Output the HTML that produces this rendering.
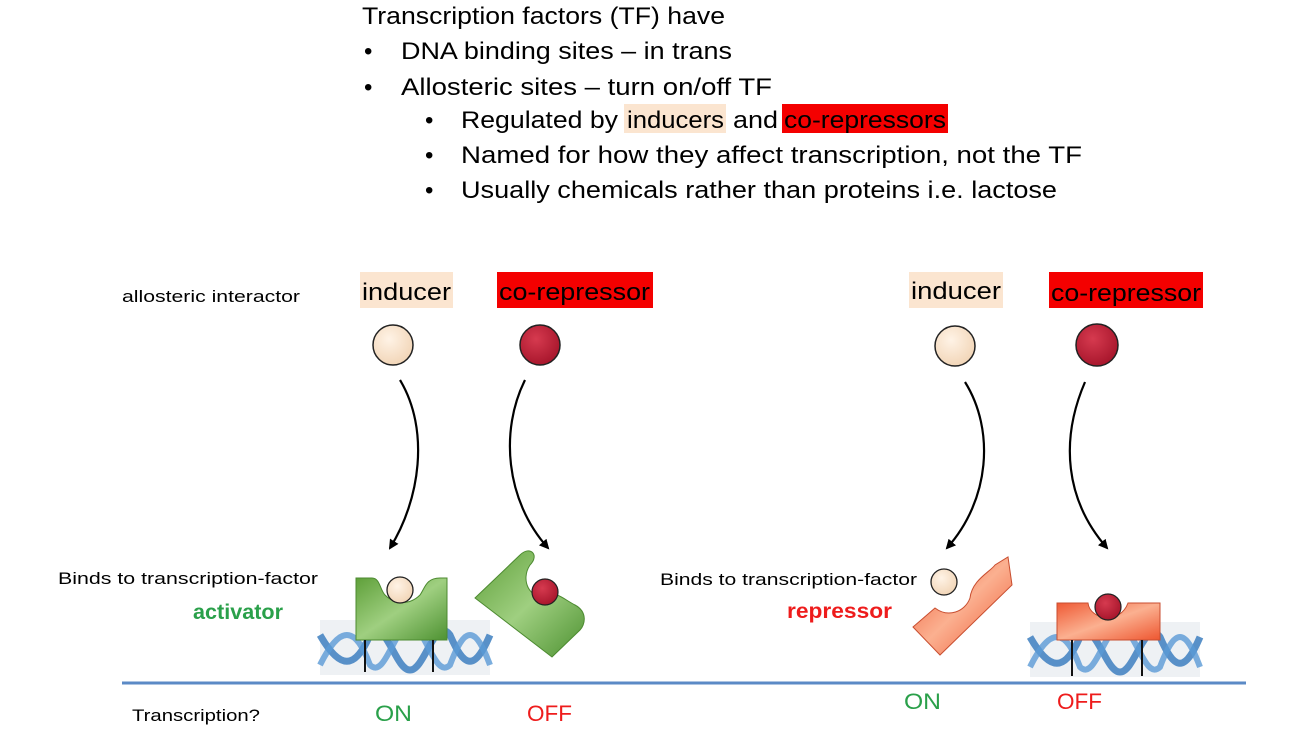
<!DOCTYPE html>
<html><head><meta charset="utf-8"><style>
body{margin:0;width:1290px;height:748px;background:#fff;overflow:hidden;font-family:"Liberation Sans",sans-serif}
</style></head><body>
<svg width="1290" height="748" xmlns="http://www.w3.org/2000/svg" font-family="Liberation Sans, sans-serif">
<defs>
<linearGradient id="g" x1="0" y1="0" x2="1" y2="1"><stop offset="0" stop-color="#5fa03a"/><stop offset=".5" stop-color="#9fcf80"/><stop offset="1" stop-color="#4e9232"/></linearGradient>
<linearGradient id="o" x1="0" y1="0" x2="1" y2="1"><stop offset="0" stop-color="#ef5a35"/><stop offset=".5" stop-color="#fbb090"/><stop offset="1" stop-color="#ee5630"/></linearGradient>
<radialGradient id="cr" cx=".4" cy=".35" r=".7"><stop offset="0" stop-color="#d63a4f"/><stop offset="1" stop-color="#a5142a"/></radialGradient>
<radialGradient id="ci" cx=".4" cy=".35" r=".7"><stop offset="0" stop-color="#fff3e6"/><stop offset="1" stop-color="#f1d4b5"/></radialGradient>
<marker id="ah" markerWidth="10" markerHeight="10" refX="8" refY="5" orient="auto" markerUnits="userSpaceOnUse"><path d="M0,0 L10,5 L0,10 Z" fill="#000"/></marker>
<g id="dna"><rect x="0" y="0" width="170" height="55" fill="#eef1f4"/>
<path d="M0,15 C20,50 35,50 50,15 C65,-5 75,50 90,50 C105,50 115,-5 130,15 C145,50 155,50 170,15" stroke="#3d7fc0" stroke-width="7" fill="none" opacity=".85"/>
<path d="M0,45 C20,5 35,5 50,45 C65,60 75,5 90,5 C105,5 115,60 130,45 C145,5 155,5 170,45" stroke="#5a9ad6" stroke-width="6" fill="none" opacity=".8"/></g>
</defs>
<g font-size="24" fill="#000">
<text x="362" y="24" textLength="363" lengthAdjust="spacingAndGlyphs">Transcription factors (TF) have</text>
<text x="364" y="59">•</text><text x="401" y="59" textLength="331" lengthAdjust="spacingAndGlyphs">DNA binding sites – in trans</text>
<text x="364" y="95">•</text><text x="401" y="95" textLength="371" lengthAdjust="spacingAndGlyphs">Allosteric sites – turn on/off TF</text>
<rect x="624" y="104" width="102" height="29" fill="#fbe5d0"/>
<rect x="782" y="104" width="166" height="29" fill="#f40000"/>
<text x="425" y="128">•</text>
<text x="461" y="128" textLength="157" lengthAdjust="spacingAndGlyphs">Regulated by</text>
<text x="627" y="128" textLength="97" lengthAdjust="spacingAndGlyphs">inducers</text>
<text x="733" y="128" textLength="45" lengthAdjust="spacingAndGlyphs">and</text>
<text x="784" y="128" textLength="162" lengthAdjust="spacingAndGlyphs">co-repressors</text>
<text x="425" y="163">•</text><text x="461" y="163" textLength="621" lengthAdjust="spacingAndGlyphs">Named for how they affect transcription, not the TF</text>
<text x="425" y="198">•</text><text x="461" y="198" textLength="596" lengthAdjust="spacingAndGlyphs">Usually chemicals rather than proteins i.e. lactose</text>
</g>
<text x="122" y="302" font-size="17" textLength="178" lengthAdjust="spacingAndGlyphs">allosteric interactor</text>
<rect x="360" y="272" width="93" height="36" fill="#fbe5d0"/><text x="362" y="300" font-size="24" textLength="89" lengthAdjust="spacingAndGlyphs">inducer</text>
<rect x="497" y="272" width="156" height="36" fill="#f40000"/><text x="499" y="300" font-size="24" textLength="151" lengthAdjust="spacingAndGlyphs">co-repressor</text>
<rect x="909" y="272" width="94" height="36" fill="#fbe5d0"/><text x="911" y="299" font-size="24" textLength="90" lengthAdjust="spacingAndGlyphs">inducer</text>
<rect x="1049" y="272" width="154" height="36" fill="#f40000"/><text x="1051" y="301" font-size="24" textLength="150" lengthAdjust="spacingAndGlyphs">co-repressor</text>
<circle cx="393" cy="345" r="20" fill="url(#ci)" stroke="#222" stroke-width="1.5"/>
<circle cx="540" cy="345" r="20" fill="url(#cr)" stroke="#222" stroke-width="1.5"/>
<circle cx="955" cy="346" r="20" fill="url(#ci)" stroke="#222" stroke-width="1.5"/>
<circle cx="1097" cy="345" r="21" fill="url(#cr)" stroke="#222" stroke-width="1.5"/>
<g stroke="#000" stroke-width="2.2" fill="none" marker-end="url(#ah)">
<path d="M400,380 C430,430 420,500 390,548"/>
<path d="M525,380 C500,430 505,500 548,548"/>
<path d="M965,382 C995,430 990,500 947,548"/>
<path d="M1085,382 C1060,440 1065,500 1107,548"/>
</g>
<text x="58" y="584" font-size="17" textLength="260" lengthAdjust="spacingAndGlyphs">Binds to transcription-factor</text>
<text x="193" y="619" font-size="21" font-weight="bold" fill="#2aa04a" textLength="90" lengthAdjust="spacingAndGlyphs">activator</text>
<text x="660" y="585" font-size="17" textLength="257" lengthAdjust="spacingAndGlyphs">Binds to transcription-factor</text>
<text x="787" y="618" font-size="21" font-weight="bold" fill="#ee1c1c" textLength="105" lengthAdjust="spacingAndGlyphs">repressor</text>
<use href="#dna" x="320" y="620"/>
<path d="M356,578 L372,578 C380,578 380,590 385,595 C395,605 410,605 420,595 C425,588 426,578 440,578 L447,578 L447,640 L356,640 Z" fill="url(#g)" stroke="#4c8a30" stroke-width="1"/>
<path d="M365,640 V672 M433,640 V672" stroke="#111" stroke-width="2"/>
<circle cx="400" cy="590" r="13" fill="url(#ci)" stroke="#222" stroke-width="1.3"/>
<path d="M475,598 L520,555 C530,545 540,555 530,565 C520,580 530,600 545,595 C555,590 565,600 575,605 C588,612 585,625 580,630 L552,657 Z" fill="url(#g)" stroke="#4c8a30" stroke-width="1"/>
<circle cx="545" cy="592" r="13" fill="url(#cr)" stroke="#222" stroke-width="1.2"/>
<path d="M913,627 L935,608 C948,618 965,612 970,598 C972,580 990,572 995,565 L1008,557 L1012,585 L940,655 Z" fill="url(#o)" stroke="#c84e30" stroke-width="1"/>
<circle cx="944" cy="582" r="13" fill="url(#ci)" stroke="#222" stroke-width="1.3"/>
<use href="#dna" x="1030" y="622"/>
<path d="M1057,603 L1088,603 C1090,620 1120,625 1128,603 L1160,603 L1160,640 L1057,640 Z" fill="url(#o)" stroke="#c84e30" stroke-width="1"/>
<path d="M1072,640 V676 M1142,640 V676" stroke="#111" stroke-width="2"/>
<circle cx="1108" cy="607" r="13" fill="url(#cr)" stroke="#222" stroke-width="1.2"/>
<line x1="122" y1="683" x2="1246" y2="683" stroke="#5b8ac6" stroke-width="3"/>
<text x="132" y="721" font-size="17" textLength="128" lengthAdjust="spacingAndGlyphs">Transcription?</text>
<text x="375" y="721" font-size="22" fill="#2aa04a" textLength="37" lengthAdjust="spacingAndGlyphs">ON</text>
<text x="527" y="721" font-size="22" fill="#ee1c1c" textLength="45" lengthAdjust="spacingAndGlyphs">OFF</text>
<text x="904" y="709" font-size="22" fill="#2aa04a" textLength="37" lengthAdjust="spacingAndGlyphs">ON</text>
<text x="1057" y="709" font-size="22" fill="#ee1c1c" textLength="45" lengthAdjust="spacingAndGlyphs">OFF</text>
</svg>
</body></html>
